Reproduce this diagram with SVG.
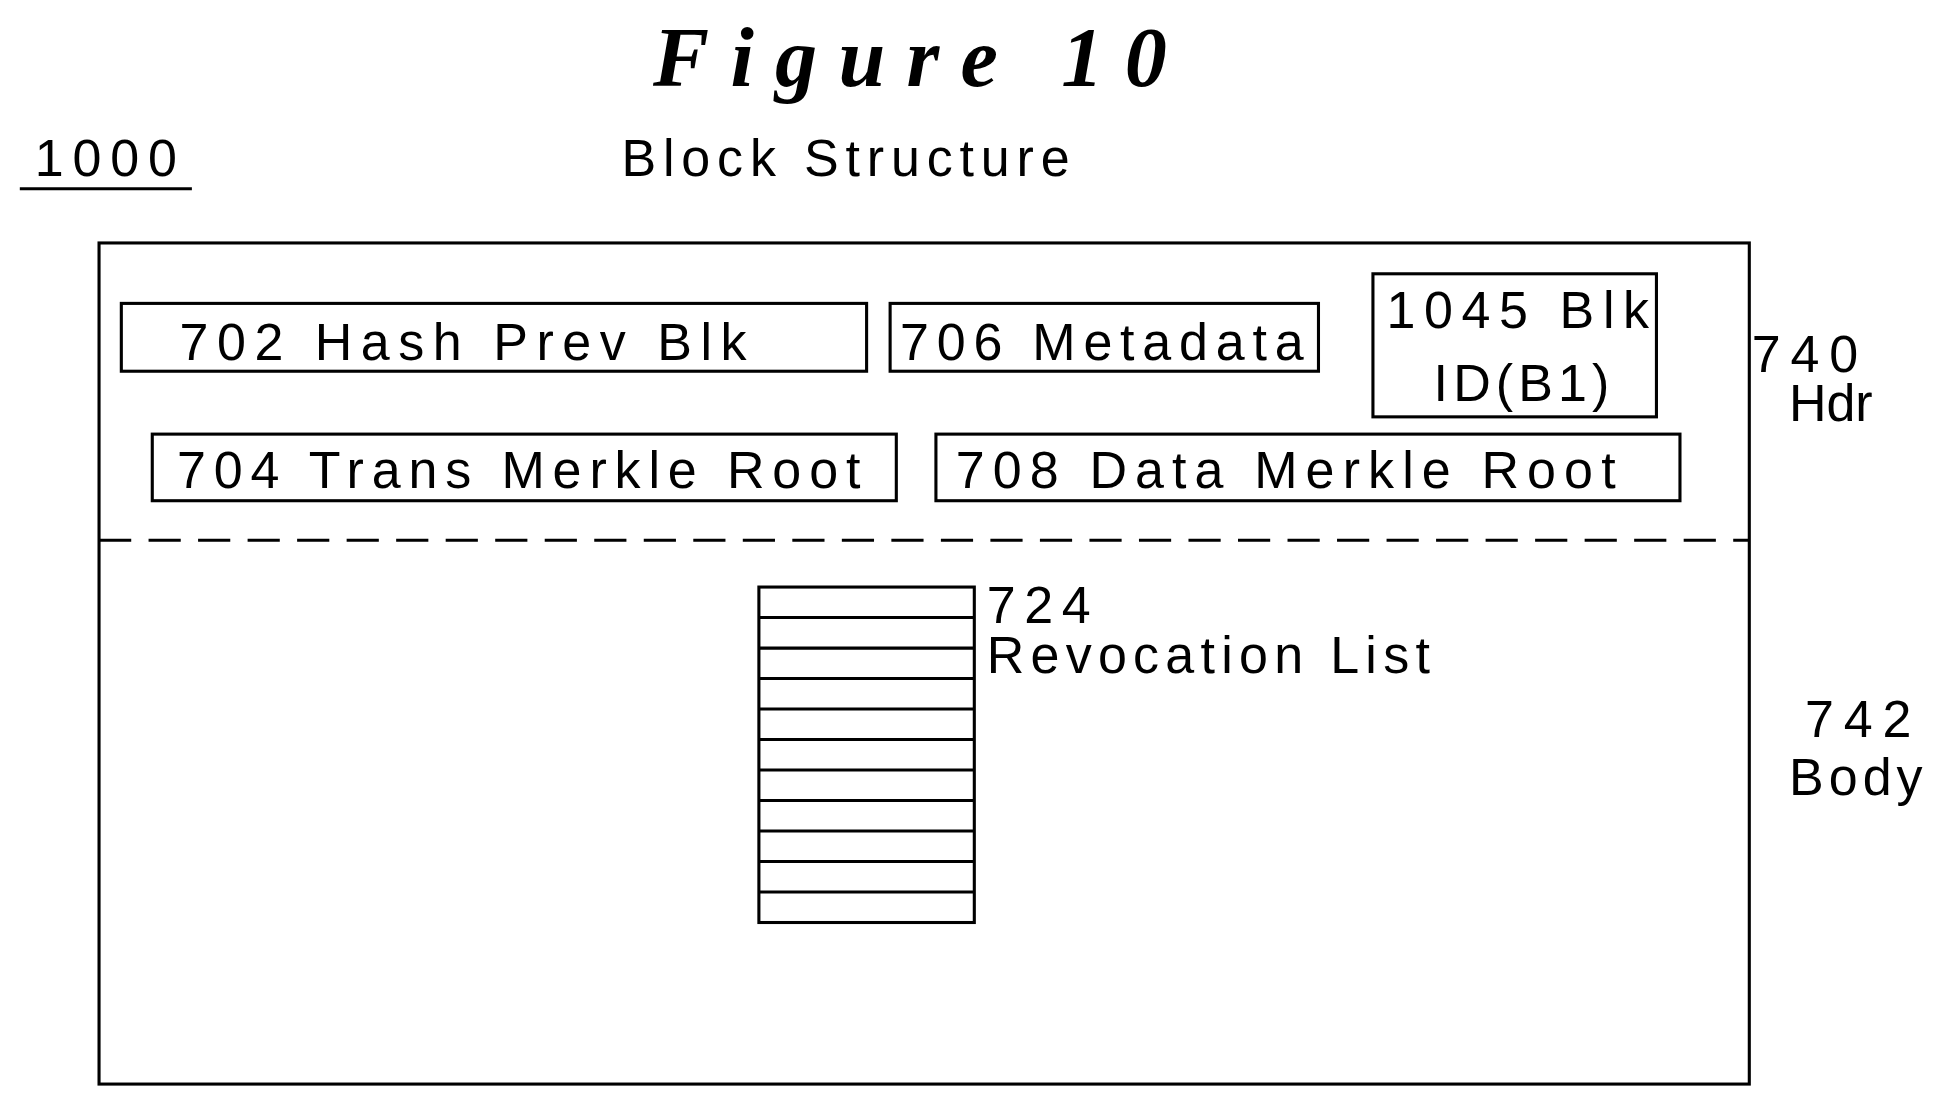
<svg xmlns="http://www.w3.org/2000/svg" width="1941" height="1110" viewBox="0 0 1941 1110">
<style>
.b{fill:none;stroke:#000;stroke-width:2.5}
.t{font-family:"Liberation Sans",Arial,sans-serif;font-size:42px;fill:#000}
</style>
<rect width="1941" height="1110" fill="#fff"/>
<g transform="scale(1.238,1.2333)">
<text x="735" y="70" text-anchor="middle" font-family="Liberation Serif,serif" font-style="italic" font-weight="bold" font-size="68" textLength="415" lengthAdjust="spacing">Figure 10</text>
<g id="label1000"><text class="t" x="28" y="143" textLength="115" lengthAdjust="spacing">1000</text><line x1="16" y1="153" x2="155" y2="153" stroke="#000" stroke-width="2.5"/></g>
<text class="t" x="502" y="143" textLength="362" lengthAdjust="spacing">Block Structure</text>
<g id="block"><rect class="b" x="80" y="197" width="1333" height="682"/>
<line x1="80" y1="438" x2="1413" y2="438" stroke="#000" stroke-width="2.5" stroke-dasharray="26,14"/></g>
<g id="n702"><rect class="b" x="98" y="246" width="602" height="55"/><text class="t" x="145" y="292" textLength="458" lengthAdjust="spacing">702 Hash Prev Blk</text></g>
<g id="n706"><rect class="b" x="719" y="246" width="346" height="55"/><text class="t" x="727" y="292" textLength="326" lengthAdjust="spacing">706 Metadata</text></g>
<g id="n1045"><rect class="b" x="1109" y="222" width="229" height="116"/><text class="t" x="1120" y="266" textLength="212" lengthAdjust="spacing">1045 Blk</text><text class="t" x="1158" y="325" textLength="142" lengthAdjust="spacing">ID(B1)</text></g>
<g id="n704"><rect class="b" x="123" y="352" width="601" height="54"/><text class="t" x="143" y="396" textLength="552" lengthAdjust="spacing">704 Trans Merkle Root</text></g>
<g id="n708"><rect class="b" x="756" y="352" width="601" height="54"/><text class="t" x="772" y="396" textLength="533" lengthAdjust="spacing">708 Data Merkle Root</text></g>
<g id="hdr"><text class="t" x="1415" y="302" textLength="86" lengthAdjust="spacing">740</text><text class="t" x="1445" y="341">Hdr</text></g>
<g id="body"><text class="t" x="1458" y="598" textLength="86" lengthAdjust="spacing">742</text><text class="t" x="1445" y="645" textLength="108" lengthAdjust="spacing">Body</text></g>
<g id="n724"><rect class="b" x="613" y="476" width="174" height="272"/>
<path stroke="#000" stroke-width="2.5" d="M613 500.7H787M613 525.5H787M613 550.2H787M613 574.9H787M613 599.6H787M613 624.4H787M613 649.1H787M613 673.8H787M613 698.5H787M613 723.3H787"/>
<text class="t" x="797" y="505" textLength="84" lengthAdjust="spacing">724</text><text class="t" x="797" y="546" textLength="358" lengthAdjust="spacing">Revocation List</text></g>
</g>
</svg>
